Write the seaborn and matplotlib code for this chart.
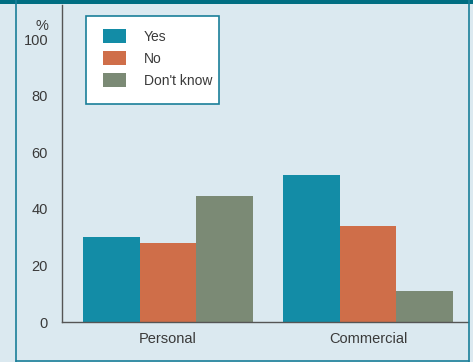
import matplotlib
matplotlib.use("Agg")
import matplotlib.pyplot as plt
import seaborn as sns
import pandas as pd
from matplotlib.patches import Rectangle
from matplotlib.lines import Line2D

categories = ["Personal", "Commercial"]
responses = ["Yes", "No", "Don't know"]
yes_vals = [30, 52]
no_vals = [28, 34]
dk_vals = [44.5, 11]
yticks = [0, 20, 40, 60, 80, 100]

colors = {"Yes": "#138ca6", "No": "#cf6e49", "Don't know": "#7b8a75"}
bg = "#dbe9f0"

rows = []
for resp, vals in zip(responses, [yes_vals, no_vals, dk_vals]):
    for c, v in zip(categories, vals):
        rows.append({"category": c, "response": resp, "value": v})
df = pd.DataFrame(rows)

sns.set_theme(style="white")
plt.rcParams['font.family'] = ['Liberation Sans', 'DejaVu Sans']

W, H = 473, 362
fig = plt.figure(figsize=(W/100, H/100), dpi=100)
fig.patch.set_facecolor(bg)
ax = fig.add_axes([62/W, 1 - 322/H, (468 - 62)/W, (322 - 5)/H])
ax.set_facecolor(bg)

sns.barplot(data=df, x="category", y="value", hue="response", hue_order=responses,
            palette=colors, width=0.85, saturation=1, ax=ax, legend=False,
            linewidth=0, errorbar=None)

ax.set_xlim(-0.53, 1.5)
ax.set_ylim(0, 112.2)
ax.set_yticks(yticks)
ax.set_yticklabels([str(t) for t in yticks])
ax.set_xlabel("")
ax.set_ylabel("")
ax.tick_params(axis="both", length=0, labelsize=10.5, colors="#3a3a3a")
ax.tick_params(axis="y", pad=10)
ax.tick_params(axis="x", pad=7)
for s in ["top", "right"]:
    ax.spines[s].set_visible(False)
for s in ["left", "bottom"]:
    ax.spines[s].set_color("#555555")
    ax.spines[s].set_linewidth(1.0)

fig.text(42/W, 1 - 26/H, "%", ha="center", va="center", fontsize=10.5, color="#3a3a3a")

# legend box
fig.add_artist(Rectangle((86/W, 1 - 104/H), (219 - 86)/W, (104 - 16)/H,
                         transform=fig.transFigure, facecolor="white",
                         edgecolor="#1a7f99", linewidth=1.2, zorder=2))
handles = [Rectangle((0, 0), 1, 1, facecolor=colors[r], edgecolor="none") for r in responses]
leg = fig.legend(handles, responses, loc="upper left",
                 bbox_to_anchor=(103/W, 1 - 29/H), frameon=False, fontsize=10,
                 handlelength=1.65, handleheight=1.2, handletextpad=1.3,
                 borderpad=0, labelspacing=0.52, borderaxespad=0)
leg.set_zorder(5)
for t in leg.get_texts():
    t.set_color("#3a3a3a")

# frame decorations
fig.add_artist(Rectangle((0, 1 - 4/H), 1, 4/H, transform=fig.transFigure,
                         facecolor="#006e82", edgecolor="none"))
fig.add_artist(Line2D([16/W, 16/W], [0, 1], transform=fig.transFigure, color="#1a7f99", lw=1.2))
fig.add_artist(Line2D([469/W, 469/W], [0, 1], transform=fig.transFigure, color="#1a7f99", lw=1.2))
fig.add_artist(Line2D([16/W, 469/W], [1.5/H, 1.5/H], transform=fig.transFigure, color="#1a7f99", lw=1.2))

fig.savefig("out.png", dpi=100, facecolor=bg)
